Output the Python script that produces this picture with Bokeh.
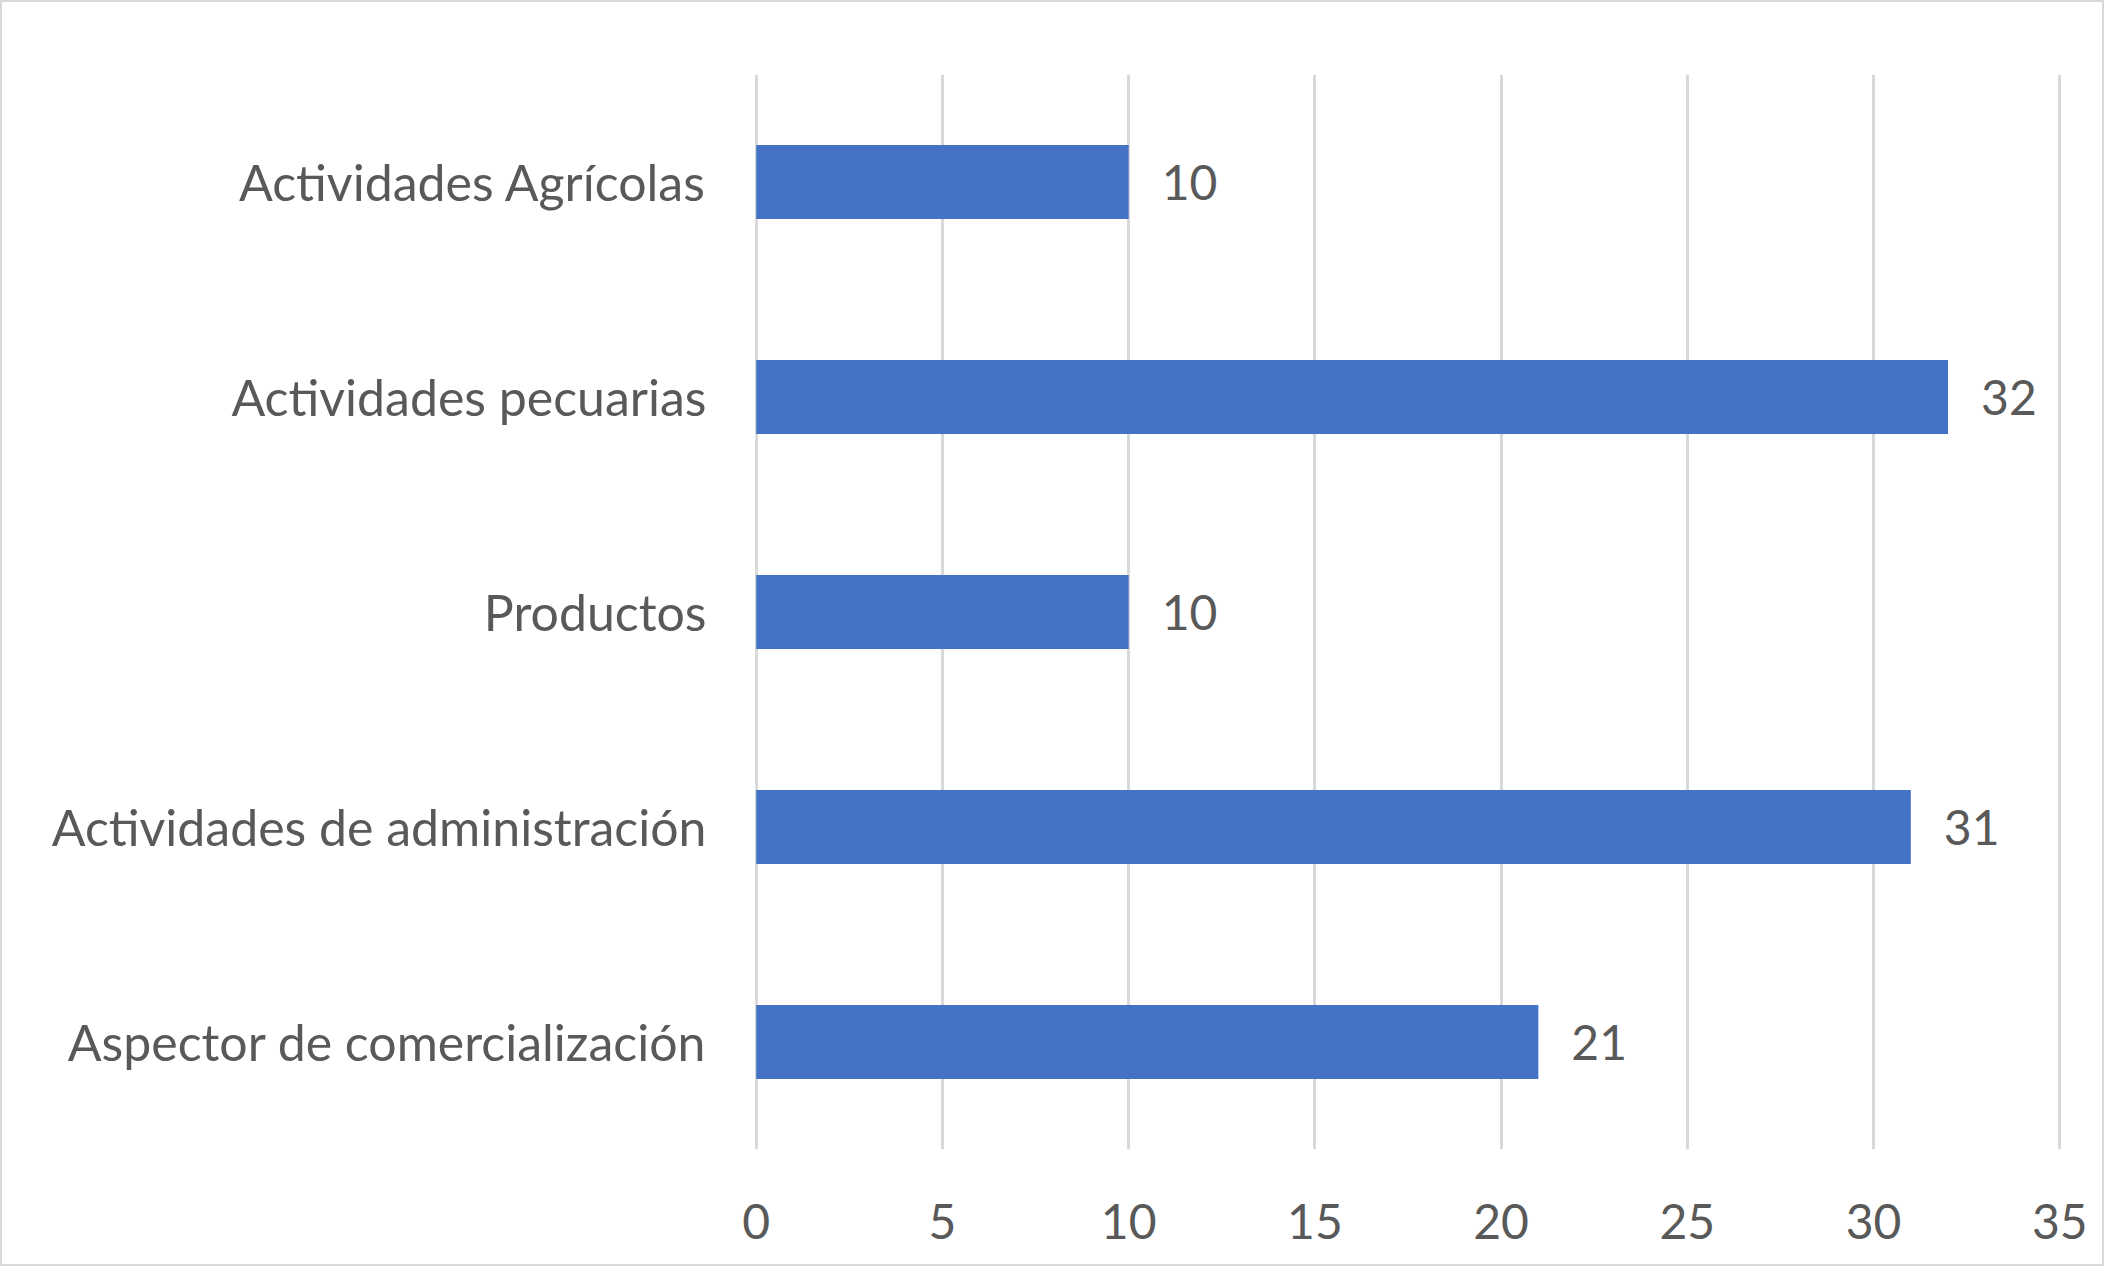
from bokeh.plotting import figure
from bokeh.models import FactorRange, Range1d, ColumnDataSource, FixedTicker
from bokeh.core.properties import value
from bokeh.embed import file_html
from bokeh.resources import INLINE

categories = [
    "Actividades Agrícolas",
    "Actividades pecuarias",
    "Productos",
    "Actividades de administración",
    "Aspector de comercialización",
]
values = [10, 32, 10, 31, 21]
x_ticks = [0, 5, 10, 15, 20, 25, 30, 35]

BLUE = "#4472C4"
TEXT = "#595959"
GRID = "#D9D9D9"
FONT = "Lato"
FS = "48px"

factors = list(reversed(categories))
W, H = 2104, 1266
p = figure(
    width=W, height=H,
    y_range=FactorRange(*factors),
    x_range=Range1d(-0.1, 35.1),
    output_backend="svg", toolbar_location=None,
    min_border_left=750, min_border_right=43,
    min_border_top=72, min_border_bottom=119,
)
p.styles = {"border": "2px solid #D9D9D9", "box-sizing": "border-box"}

src = ColumnDataSource(dict(cat=categories, val=values, lab=[str(v) for v in values]))
p.hbar(y="cat", right="val", left=0, height=0.345, source=src,
       fill_color=BLUE, line_color=None)
p.text(x="val", y="cat", text="lab", source=src, x_offset=33,
       text_baseline="middle", text_align="left",
       text_font=value(FONT), text_font_size=FS, text_color=TEXT)

p.outline_line_color = None
p.ygrid.grid_line_color = None
p.xgrid.grid_line_color = GRID
p.xgrid.grid_line_width = 3
p.xaxis.ticker = FixedTicker(ticks=x_ticks)

for ax in (p.xaxis[0], p.yaxis[0]):
    ax.axis_line_color = None
    ax.major_tick_line_color = None
    ax.minor_tick_line_color = None
    ax.major_tick_in = 0
    ax.major_tick_out = 0
    ax.major_label_text_font = FONT
    ax.major_label_text_font_size = FS
    ax.major_label_text_color = TEXT

p.yaxis.major_label_text_font_size = "50px"
p.yaxis.major_label_standoff = 46
p.xaxis.major_label_standoff = 54

open("out.html", "w").write(file_html(p, INLINE))
